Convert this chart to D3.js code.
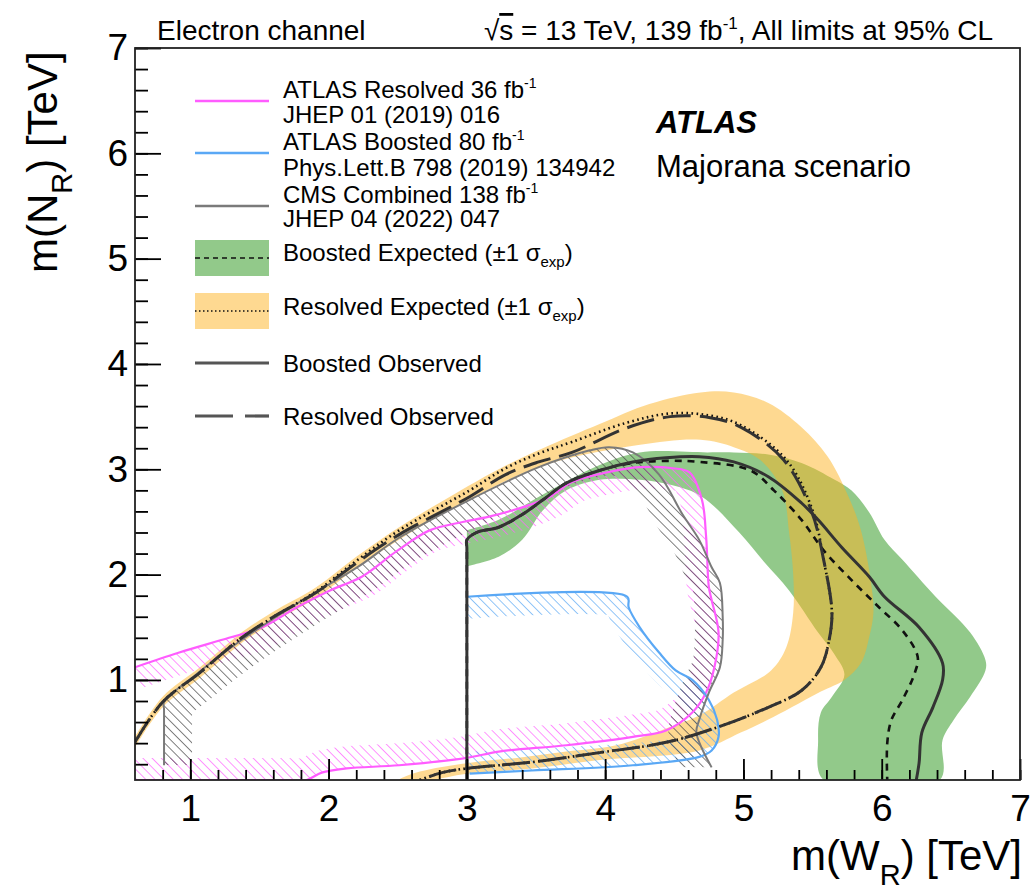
<!DOCTYPE html>
<html>
<head>
<meta charset="utf-8">
<script src="https://cdn.jsdelivr.net/npm/d3@7"></script>
<style>
  body { margin: 0; background: #fff; }
  text { font-family: "Liberation Sans", Arial, Helvetica, sans-serif; fill: #000; }
</style>
</head>
<body>
<div id="chart"></div>
<script>
// ---- data, [m(W_R), m(N_R)] in TeV ----
const xTicks = [1, 2, 3, 4, 5, 6, 7];
const yTicks = [1, 2, 3, 4, 5, 6, 7];

// this analysis
const resolvedObs = [[0.60,0.41],[0.80,0.79],[1.07,1.07],[1.35,1.38],[1.59,1.59],[1.91,1.83],[2.20,2.11],[2.51,2.38],[3.02,2.74],[3.28,2.95],[3.52,3.07],[3.76,3.16],[4.15,3.39],[4.47,3.50],[4.76,3.49],[4.98,3.40],[5.29,3.09],[5.49,2.61],[5.58,2.14],[5.64,1.64],[5.62,1.38],[5.56,1.12],[5.42,0.90],[5.18,0.74],[4.81,0.55],[4.45,0.41],[3.96,0.31],[3.47,0.22],[3.00,0.16],[2.82,0.12],[2.66,0.05]];
const resolvedExp = [[0.60,0.41],[0.80,0.79],[1.07,1.07],[1.35,1.38],[1.59,1.59],[1.91,1.84],[2.20,2.13],[2.51,2.42],[3.02,2.80],[3.28,3.01],[3.52,3.15],[3.76,3.26],[4.15,3.44],[4.47,3.53],[4.76,3.51],[4.98,3.42],[5.31,3.09],[5.50,2.61],[5.58,2.14],[5.64,1.64],[5.62,1.38],[5.56,1.12],[5.42,0.90],[5.18,0.74],[4.81,0.55],[4.45,0.41],[3.96,0.31],[3.47,0.22],[3.00,0.16],[2.82,0.12],[2.66,0.05]];
const resolvedBandOuter = [[0.60,0.46],[0.80,0.84],[1.07,1.12],[1.35,1.43],[1.59,1.64],[1.91,1.88],[2.20,2.17],[2.51,2.45],[2.80,2.68],[3.23,3.00],[3.55,3.20],[3.96,3.43],[4.32,3.62],[4.69,3.73],[4.93,3.73],[5.18,3.63],[5.42,3.40],[5.61,3.12],[5.76,2.74],[5.85,2.42],[5.92,1.95],[5.94,1.64],[5.91,1.41],[5.85,1.16],[5.73,1.00],[5.56,0.89],[5.22,0.65],[4.98,0.50],[4.68,0.33],[3.96,0.24],[3.47,0.16],[3.00,0.11],[2.73,0.05]];
const resolvedBandInner = [[0.60,0.36],[0.80,0.74],[1.07,1.02],[1.35,1.33],[1.59,1.54],[1.91,1.78],[2.20,2.06],[2.51,2.33],[2.80,2.56],[3.52,3.02],[4.24,3.23],[4.69,3.28],[4.93,3.21],[5.12,3.09],[5.28,2.80],[5.33,2.40],[5.36,2.00],[5.36,1.64],[5.31,1.31],[5.20,1.09],[4.93,0.88],[4.69,0.67],[4.44,0.54],[4.08,0.38],[3.72,0.32],[3.36,0.26],[3.00,0.21],[2.66,0.13],[2.51,0.05]];

const boostedObs = [[3.00,0.05],[3.00,1.00],[3.00,2.25],[3.00,2.33],[3.07,2.40],[3.23,2.45],[3.40,2.57],[3.55,2.71],[3.72,2.87],[3.96,2.99],[4.20,3.07],[4.44,3.11],[4.68,3.12],[4.93,3.07],[5.18,2.93],[5.42,2.68],[5.54,2.52],[5.71,2.26],[5.91,1.98],[6.02,1.79],[6.27,1.50],[6.44,1.16],[6.44,1.00],[6.37,0.74],[6.29,0.50],[6.27,0.21],[6.25,0.05]];
const boostedExp = [[3.00,0.05],[3.00,1.00],[3.00,2.25],[3.00,2.33],[3.07,2.40],[3.23,2.45],[3.40,2.57],[3.55,2.71],[3.72,2.87],[3.96,2.99],[4.20,3.06],[4.44,3.08],[4.68,3.07],[5.05,2.99],[5.22,2.80],[5.42,2.52],[5.58,2.23],[5.78,1.95],[5.98,1.69],[6.15,1.47],[6.26,1.22],[6.24,1.07],[6.15,0.81],[6.07,0.62],[6.04,0.40],[6.04,0.05]];
const boostedBandOuter = [[3.00,2.42],[3.23,2.52],[3.55,2.76],[3.96,3.04],[4.25,3.16],[4.74,3.16],[4.93,3.16],[5.18,3.14],[5.42,3.06],[5.66,2.90],[5.78,2.80],[5.91,2.59],[6.02,2.33],[6.15,2.14],[6.39,1.79],[6.64,1.45],[6.75,1.19],[6.75,1.09],[6.64,0.84],[6.52,0.62],[6.44,0.43],[6.42,0.05]];
const boostedBandInner = [[3.00,2.08],[3.23,2.17],[3.40,2.33],[3.55,2.61],[3.72,2.80],[3.96,2.90],[4.25,2.90],[4.48,2.85],[4.70,2.74],[4.97,2.40],[5.15,2.12],[5.33,1.85],[5.54,1.45],[5.66,1.24],[5.73,1.05],[5.64,0.84],[5.56,0.69],[5.54,0.43],[5.58,0.05]];

// earlier results (hatched on the excluded side)
const atlasResolved36 = [[0.60,1.12],[0.92,1.26],[1.28,1.40],[1.52,1.50],[1.77,1.69],[2.01,1.85],[2.24,1.98],[2.49,2.22],[2.73,2.42],[2.97,2.50],[3.16,2.55],[3.45,2.66],[3.60,2.74],[3.76,2.88],[4.01,2.97],[4.25,3.02],[4.49,3.01],[4.61,2.97],[4.70,2.71],[4.73,2.36],[4.75,1.88],[4.77,1.76],[4.82,1.45],[4.79,1.12],[4.73,0.88],[4.63,0.69],[4.44,0.52],[4.20,0.46],[3.72,0.38],[3.23,0.32],[3.00,0.26],[2.51,0.19],[2.13,0.16],[1.95,0.12],[1.84,0.05],[1.70,0.05],[0.60,0.05]];
const atlasBoosted80 = [[3.00,1.79],[4.16,1.79],[4.17,1.69],[4.25,1.50],[4.39,1.26],[4.51,1.09],[4.63,1.00],[4.75,0.81],[4.81,0.62],[4.82,0.46],[4.77,0.33],[4.68,0.27],[4.20,0.19],[3.47,0.14],[3.02,0.11]];
const cmsCombined = [[0.81,0.19],[0.81,0.50],[0.81,0.72],[0.81,0.79],[1.04,1.05],[1.35,1.36],[1.79,1.74],[2.22,2.08],[2.51,2.35],[3.02,2.71],[3.52,3.02],[3.89,3.18],[4.03,3.21],[4.20,3.16],[4.39,2.95],[4.56,2.57],[4.68,2.33],[4.77,2.07],[4.83,1.92],[4.85,1.60],[4.85,1.38],[4.83,1.12],[4.75,0.88],[4.68,0.62],[4.66,0.50],[4.77,0.17]];

// ---- frame and scales ----
const width = 1033, height = 892,
  frame = { left: 135, right: 1020, top: 48, bottom: 780 },
  pink = "#ff5cff", blue = "#5aa8f5", grey = "#7a7a7a",
  green = "#92c98a", orange = "#fdb323", dark = "#333";

const x = d3.scaleLinear().domain([0.6, 7]).range([frame.left, frame.right]);
const y = d3.scaleLinear().domain([0.05, 7]).range([frame.bottom, frame.top]);

const line = d3.line()
  .x(d => x(d[0]))
  .y(d => y(d[1]))
  .curve(d3.curveCatmullRom.alpha(0.5));

const svg = d3.select("#chart")
  .append("svg")
  .attr("width", width)
  .attr("height", height);

const defs = svg.append("defs");
defs.append("clipPath").attr("id", "plot-clip")
  .append("rect")
  .attr("x", frame.left).attr("y", frame.top)
  .attr("width", frame.right - frame.left)
  .attr("height", frame.bottom - frame.top);

// "\\" hatching
function hatch(id, color) {
  defs.append("pattern")
    .attr("id", id)
    .attr("patternUnits", "userSpaceOnUse")
    .attr("width", 6.5).attr("height", 6.5)
    .attr("patternTransform", "rotate(-45)")
    .append("line")
    .attr("x1", 0).attr("y1", 0).attr("x2", 0).attr("y2", 6.5)
    .attr("stroke", color).attr("stroke-width", 1.4);
}
hatch("hatch-pink", "#ff66ff");
hatch("hatch-blue", "#62acf5");
hatch("hatch-grey", "#4a4a4a");

const plot = svg.append("g").attr("clip-path", "url(#plot-clip)");

// bands
plot.append("path")
  .attr("d", line(boostedBandOuter.concat(boostedBandInner.slice().reverse())) + "Z")
  .attr("fill", green);
plot.append("path")
  .attr("d", line(resolvedBandOuter.concat(resolvedBandInner.slice().reverse())) + "Z")
  .attr("fill", orange)
  .attr("fill-opacity", 0.5);

// previous limits: hatch strip kept on the inside of each contour
const previous = [
  { id: "pink", pts: atlasResolved36, color: pink, half: 22 },
  { id: "blue", pts: atlasBoosted80, color: blue, half: 22 },
  { id: "grey", pts: cmsCombined, color: grey, half: 28 }
];
previous.forEach(p => {
  defs.append("clipPath").attr("id", "in-" + p.id)
    .append("path").attr("d", line(p.pts) + "Z");
  plot.append("path")
    .attr("d", line(p.pts))
    .attr("fill", "none")
    .attr("stroke", `url(#hatch-${p.id})`)
    .attr("stroke-width", 2 * p.half)
    .attr("stroke-linejoin", "round")
    .attr("clip-path", `url(#in-${p.id})`);
});
previous.forEach(p => {
  plot.append("path")
    .attr("d", line(p.pts))
    .attr("fill", "none")
    .attr("stroke", p.color)
    .attr("stroke-width", p.id == "grey" ? 2 : 2.2);
});

// this analysis lines
const styles = [
  { pts: boostedExp, color: "#111", w: 2.6, dash: "7,6" },
  { pts: resolvedExp, color: "#111", w: 2.6, dash: "1.6,3.4" },
  { pts: boostedObs, color: dark, w: 3, dash: null },
  { pts: resolvedObs, color: dark, w: 3, dash: "28,9" }
];
styles.forEach(s => {
  plot.append("path")
    .attr("d", line(s.pts))
    .attr("fill", "none")
    .attr("stroke", s.color)
    .attr("stroke-width", s.w)
    .attr("stroke-dasharray", s.dash);
});

// ---- axes ----
const xMinor = d3.range(0.8, 7.001, 0.2);
const yMinor = d3.range(0.2, 7.001, 0.2);

svg.append("g")
  .attr("transform", `translate(0,${frame.bottom})`)
  .call(d3.axisBottom(x).tickValues(xMinor).tickSize(-10).tickFormat(""))
  .call(g => g.select(".domain").remove())
  .selectAll("line").attr("stroke-width", 1.8);
svg.append("g")
  .attr("transform", `translate(0,${frame.bottom})`)
  .call(d3.axisBottom(x).tickValues(xTicks).tickSize(-21).tickPadding(15).tickFormat(d3.format("d")))
  .call(g => g.select(".domain").remove())
  .attr("font-size", 37)
  .attr("font-family", null)
  .selectAll("line").attr("stroke-width", 1.8);

svg.append("g")
  .attr("transform", `translate(${frame.left},0)`)
  .call(d3.axisLeft(y).tickValues(yMinor).tickSize(-13).tickFormat(""))
  .call(g => g.select(".domain").remove())
  .selectAll("line").attr("stroke-width", 1.8);
svg.append("g")
  .attr("transform", `translate(${frame.left},0)`)
  .call(d3.axisLeft(y).tickValues(yTicks).tickSize(-26).tickPadding(7).tickFormat(d3.format("d")))
  .call(g => g.select(".domain").remove())
  .attr("font-size", 37)
  .attr("font-family", null)
  .selectAll("line").attr("stroke-width", 1.8);

svg.append("rect")
  .attr("x", frame.left).attr("y", frame.top)
  .attr("width", frame.right - frame.left)
  .attr("height", frame.bottom - frame.top)
  .attr("fill", "none")
  .attr("stroke", "#222")
  .attr("stroke-width", 1.8);

// axis titles
const xt = svg.append("text")
  .attr("x", 1022).attr("y", 870)
  .attr("text-anchor", "end")
  .attr("font-size", 42);
xt.append("tspan").text("m(W");
xt.append("tspan").attr("font-size", 29).attr("dy", 15).text("R");
xt.append("tspan").attr("dy", -15).text(") [TeV]");

const yt = svg.append("text")
  .attr("transform", "translate(57,273) rotate(-90)")
  .attr("font-size", 42);
yt.append("tspan").text("m(N");
yt.append("tspan").attr("font-size", 29).attr("dy", 15).text("R");
yt.append("tspan").attr("dy", -15).text(") [TeV]");

// header
svg.append("text").attr("x", 157).attr("y", 40).attr("font-size", 28).text("Electron channel");
const hdr = svg.append("text").attr("x", 993).attr("y", 40)
  .attr("text-anchor", "end").attr("font-size", 28);
hdr.append("tspan").text("\u221A");
hdr.append("tspan").attr("text-decoration", "overline").text("s");
hdr.append("tspan").text(" = 13 TeV, 139 fb");
hdr.append("tspan").attr("font-size", 17).attr("dy", -11).text("-1");
hdr.append("tspan").attr("dy", 11).text(", All limits at 95% CL");

svg.append("text").attr("x", 656).attr("y", 133)
  .attr("font-size", 31).attr("font-weight", "bold").attr("font-style", "italic")
  .text("ATLAS");
svg.append("text").attr("x", 656).attr("y", 177).attr("font-size", 31).text("Majorana scenario");

// ---- legend ----
const lx0 = 195, lx1 = 269, tx = 283;
const refs = [
  { color: pink, ly: 101, t1: "ATLAS Resolved 36 fb", t2: "JHEP 01 (2019) 016", b1: 98, b2: 123 },
  { color: blue, ly: 153, t1: "ATLAS Boosted 80 fb", t2: "Phys.Lett.B 798 (2019) 134942", b1: 150, b2: 176 },
  { color: grey, ly: 206, t1: "CMS Combined 138 fb", t2: "JHEP 04 (2022) 047", b1: 203, b2: 227 }
];
const legend = svg.append("g").attr("font-size", 24);
refs.forEach(r => {
  legend.append("line")
    .attr("x1", lx0).attr("x2", lx1).attr("y1", r.ly).attr("y2", r.ly)
    .attr("stroke", r.color).attr("stroke-width", 2.4);
  const t = legend.append("text").attr("x", tx).attr("y", r.b1);
  t.append("tspan").text(r.t1);
  t.append("tspan").attr("font-size", 14).attr("dy", -10).text("-1");
  legend.append("text").attr("x", tx).attr("y", r.b2).text(r.t2);
});

function bandEntry(top, fill, opacity, dash, label, base) {
  legend.append("rect")
    .attr("x", lx0).attr("y", top).attr("width", lx1 - lx0).attr("height", 36)
    .attr("fill", fill).attr("fill-opacity", opacity);
  legend.append("line")
    .attr("x1", lx0).attr("x2", lx1).attr("y1", top + 18).attr("y2", top + 18)
    .attr("stroke", "#111").attr("stroke-width", 1.6).attr("stroke-dasharray", dash);
  const t = legend.append("text").attr("x", tx).attr("y", base);
  t.append("tspan").text(label + " (\u00B11 \u03C3");
  t.append("tspan").attr("font-size", 15).attr("dy", 6).text("exp");
  t.append("tspan").attr("dy", -6).text(")");
}
bandEntry(240, green, 1, "5,4", "Boosted Expected", 261);
bandEntry(293, orange, 0.5, "1.5,2.5", "Resolved Expected", 315);

[{ ly: 363, dash: null, label: "Boosted Observed", base: 372 },
 { ly: 416, dash: "38,12", label: "Resolved Observed", base: 425 }].forEach(o => {
  legend.append("line")
    .attr("x1", lx0).attr("x2", lx1).attr("y1", o.ly).attr("y2", o.ly)
    .attr("stroke", "#555").attr("stroke-width", 3.2).attr("stroke-dasharray", o.dash);
  legend.append("text").attr("x", tx).attr("y", o.base).text(o.label);
});
</script>
</body>
</html>
